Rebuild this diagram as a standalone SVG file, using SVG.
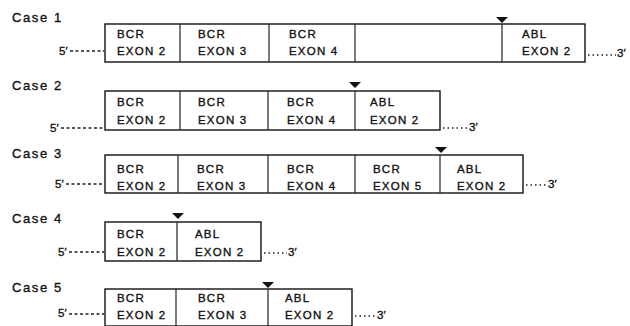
<svg xmlns="http://www.w3.org/2000/svg" width="630" height="326" viewBox="0 0 630 326">
<style>
text{font-family:"Liberation Sans",Arial,sans-serif;fill:#111;stroke:#111;stroke-width:0.35}
.case{font-size:13px;letter-spacing:1.6px}
.t{font-size:11.5px;letter-spacing:1.2px}
.end{font-size:11.5px}
.box{fill:#fff;stroke:#111;stroke-width:1.4}
.div{stroke:#222;stroke-width:1.2}
.d5{stroke:#222;stroke-width:1.3;stroke-dasharray:3 2.5}
.d3{stroke:#222;stroke-width:1.4;stroke-dasharray:1.5 3}
.tri{fill:#111}
</style>
<rect width="630" height="326" fill="#fff"/>
<g id="case1">
<text class="case" x="12" y="22">Case 1</text>
<rect class="box" x="105" y="24" width="480" height="38"/>
<line class="div" x1="180" y1="24" x2="180" y2="62"/>
<line class="div" x1="269" y1="24" x2="269" y2="62"/>
<line class="div" x1="355" y1="24" x2="355" y2="62"/>
<line class="div" x1="502" y1="24" x2="502" y2="62"/>
<polygon class="tri" points="496,17 508,17 502,23"/>
<text class="t" x="117" y="38">BCR</text><text class="t" x="117" y="55">EXON 2</text>
<text class="t" x="198" y="38">BCR</text><text class="t" x="198" y="55">EXON 3</text>
<text class="t" x="289" y="38">BCR</text><text class="t" x="289" y="55">EXON 4</text>
<text class="t" x="522" y="38">ABL</text><text class="t" x="522" y="55">EXON 2</text>
<text class="end" x="59" y="55">5′</text>
<line class="d5" x1="70" y1="51" x2="104" y2="51"/>
<line class="d3" x1="588" y1="55" x2="616" y2="55"/>
<text class="end" x="617" y="57">3′</text>
</g>
<g id="case2">
<text class="case" x="12" y="90">Case 2</text>
<rect class="box" x="105" y="91" width="335" height="39"/>
<line class="div" x1="180" y1="91" x2="180" y2="130"/>
<line class="div" x1="268" y1="91" x2="268" y2="130"/>
<line class="div" x1="355" y1="91" x2="355" y2="130"/>
<polygon class="tri" points="349,82 361,82 355,88"/>
<text class="t" x="117" y="106">BCR</text><text class="t" x="117" y="124">EXON 2</text>
<text class="t" x="198" y="106">BCR</text><text class="t" x="198" y="124">EXON 3</text>
<text class="t" x="287" y="106">BCR</text><text class="t" x="287" y="124">EXON 4</text>
<text class="t" x="370" y="106">ABL</text><text class="t" x="370" y="124">EXON 2</text>
<text class="end" x="50" y="132">5′</text>
<line class="d5" x1="61" y1="128" x2="104" y2="128"/>
<line class="d3" x1="443" y1="128" x2="468" y2="128"/>
<text class="end" x="469" y="131">3′</text>
</g>
<g id="case3">
<text class="case" x="12" y="158">Case 3</text>
<rect class="box" x="105" y="155" width="418" height="38"/>
<line class="div" x1="178" y1="155" x2="178" y2="193"/>
<line class="div" x1="268" y1="155" x2="268" y2="193"/>
<line class="div" x1="355" y1="155" x2="355" y2="193"/>
<line class="div" x1="440" y1="155" x2="440" y2="193"/>
<polygon class="tri" points="435,147 447,147 441,153"/>
<text class="t" x="117" y="173">BCR</text><text class="t" x="117" y="190">EXON 2</text>
<text class="t" x="197" y="173">BCR</text><text class="t" x="197" y="190">EXON 3</text>
<text class="t" x="287" y="173">BCR</text><text class="t" x="287" y="190">EXON 4</text>
<text class="t" x="373" y="173">BCR</text><text class="t" x="373" y="190">EXON 5</text>
<text class="t" x="457" y="173">ABL</text><text class="t" x="457" y="190">EXON 2</text>
<text class="end" x="55" y="188">5′</text>
<line class="d5" x1="66" y1="184" x2="104" y2="184"/>
<line class="d3" x1="526" y1="185" x2="547" y2="185"/>
<text class="end" x="548" y="188">3′</text>
</g>
<g id="case4">
<text class="case" x="12" y="223">Case 4</text>
<rect class="box" x="105" y="222" width="156" height="39"/>
<line class="div" x1="177" y1="222" x2="177" y2="261"/>
<polygon class="tri" points="172,213 184,213 178,219"/>
<text class="t" x="117" y="238">BCR</text><text class="t" x="117" y="256">EXON 2</text>
<text class="t" x="195" y="238">ABL</text><text class="t" x="195" y="256">EXON 2</text>
<text class="end" x="58" y="256">5′</text>
<line class="d5" x1="69" y1="252" x2="104" y2="252"/>
<line class="d3" x1="264" y1="253" x2="287" y2="253"/>
<text class="end" x="288" y="256">3′</text>
</g>
<g id="case5">
<text class="case" x="12" y="292">Case 5</text>
<rect class="box" x="105" y="289" width="247" height="37"/>
<line class="div" x1="176" y1="289" x2="176" y2="326"/>
<line class="div" x1="268" y1="289" x2="268" y2="326"/>
<polygon class="tri" points="262,282 274,282 268,288"/>
<text class="t" x="117" y="302">BCR</text><text class="t" x="117" y="319">EXON 2</text>
<text class="t" x="198" y="302">BCR</text><text class="t" x="198" y="319">EXON 3</text>
<text class="t" x="285" y="302">ABL</text><text class="t" x="285" y="319">EXON 2</text>
<text class="end" x="58" y="317">5′</text>
<line class="d5" x1="69" y1="314" x2="104" y2="314"/>
<line class="d3" x1="355" y1="316" x2="376" y2="316"/>
<text class="end" x="377" y="319">3′</text>
</g>
</svg>
